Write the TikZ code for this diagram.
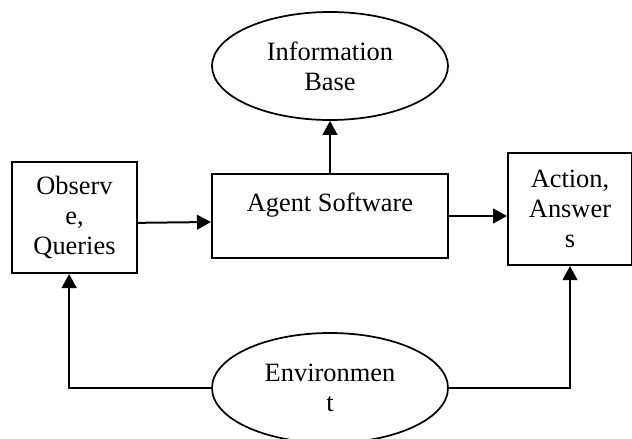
\documentclass[tikz,border=0pt]{standalone}
\usepackage{fontspec}
\setmainfont{Liberation Serif}
\usetikzlibrary{arrows.meta, shapes.geometric}

\begin{document}
\begin{tikzpicture}[
  x=0.75pt, y=-0.75pt,
  font=\fontsize{19.8}{22.5}\selectfont,
  box/.style={draw, line width=1.5pt, align=center, inner sep=0pt},
  oval/.style={draw, line width=1.3pt, ellipse, align=center, inner sep=0pt,
               minimum width=177pt, minimum height=81pt},
  arr/.style={-{Triangle[length=10.5pt, width=11pt]}, line width=1.5pt}
]
\useasboundingbox (0,0) rectangle (632,439);

%% ---------- nodes ----------
\node[oval] (info) at (330,66) {Information\\Base};
\node[box, minimum width=93.75pt, minimum height=83.25pt] (obs) at (74.5,217.5)
  {Observ\\e,\\Queries};
\node[box, minimum width=177pt, minimum height=63pt] (agent) at (330,216)
  {Agent Software\\[-8pt] \strut};
\node[box, minimum width=93pt, minimum height=84pt] (act) at (570,209)
  {Action,\\Answer\\s};
\node[oval, minimum height=82.5pt] (env) at (330,388) {Environmen\\t};

%% ---------- connectors ----------
\draw[arr] ([yshift=-4pt]obs.east) -- ([yshift=-4.5pt]agent.west);
\draw[arr] (agent.east) -- (agent.east -| act.west);
\draw[arr] (agent.north) -- (info.south);
\draw[arr] (env.west) -| ([xshift=-4pt]obs.south);
\draw[arr] (env.east) -| (act.south);
\end{tikzpicture}
\end{document}
